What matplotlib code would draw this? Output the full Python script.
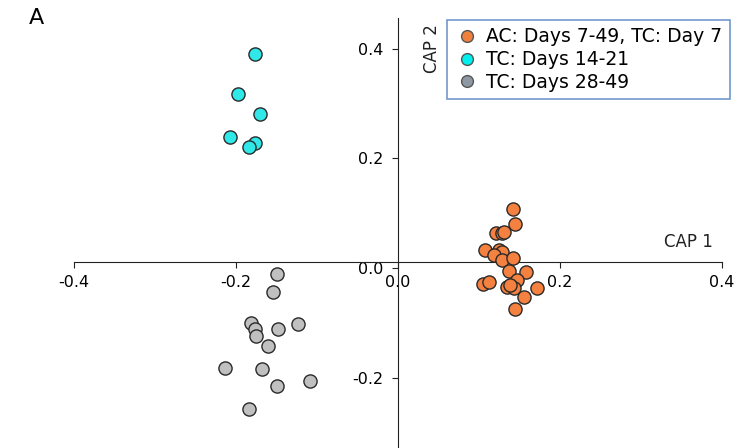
import matplotlib
matplotlib.use("Agg")
import matplotlib.pyplot as plt

plt.rcParams['font.family'] = ['DejaVu Sans']

# group 1: AC days 7-49 and TC day 7
ac_x = [0.142, 0.145, 0.121, 0.128, 0.131, 0.108, 0.125, 0.128, 0.119, 0.128, 0.142,
        0.137, 0.158, 0.147, 0.105, 0.112, 0.134, 0.143, 0.138, 0.171, 0.155, 0.144]
ac_y = [0.108, 0.080, 0.063, 0.064, 0.065, 0.032, 0.032, 0.030, 0.024, 0.015, 0.018,
        -0.006, -0.007, -0.022, -0.030, -0.026, -0.035, -0.037, -0.031, -0.037, -0.052, -0.075]

# group 2: TC days 14-21
tc1_x = [-0.177, -0.198, -0.170, -0.208, -0.176, -0.184]
tc1_y = [0.391, 0.317, 0.281, 0.239, 0.227, 0.220]

# group 3: TC days 28-49
tc2_x = [-0.149, -0.154, -0.181, -0.176, -0.175, -0.148, -0.123, -0.161, -0.213,
         -0.168, -0.109, -0.150, -0.184]
tc2_y = [-0.011, -0.044, -0.101, -0.112, -0.124, -0.112, -0.102, -0.143, -0.182,
         -0.185, -0.206, -0.215, -0.258]

labels = ["AC: Days 7-49, TC: Day 7", "TC: Days 14-21", "TC: Days 28-49"]
xticks = [-0.4, -0.2, 0.0, 0.2, 0.4]
yticks = [-0.2, 0.0, 0.2, 0.4]

fig = plt.figure(figsize=(7.44, 4.48), dpi=100)
ax = fig.add_axes([74 / 744, 0, 648 / 744, 1])

ax.scatter(ac_x, ac_y, s=90, c='#f4813f', edgecolors='#2a2a2a', linewidths=1, zorder=3)
ax.scatter(tc1_x, tc1_y, s=90, c='#30e8e8', edgecolors='#2a2a2a', linewidths=1, zorder=3)
ax.scatter(tc2_x, tc2_y, s=90, c='#c0c0c0', edgecolors='#2a2a2a', linewidths=1, zorder=3)

ax.set_xlim(-0.4, 0.4)
ax.set_ylim(-0.3282, 0.4886)

for s in ['top', 'right']:
    ax.spines[s].set_visible(False)
ax.spines['left'].set_position(('data', 0))
ax.spines['bottom'].set_position(('data', 0.011))
ax.spines['left'].set_bounds(-0.33, 0.455)
ax.spines['bottom'].set_bounds(-0.4, 0.4)
ax.spines['left'].set_color('#222222')
ax.spines['bottom'].set_color('#222222')

ax.set_xticks(xticks)
ax.set_xticklabels(['%.1f' % v for v in xticks])
ax.set_yticks(yticks)
ax.set_yticklabels(['%.1f' % v for v in yticks])
ax.tick_params(axis='x', direction='out', length=4.5, pad=5, labelsize=11.5, color='#222222')
ax.tick_params(axis='y', direction='out', length=4.5, pad=6, labelsize=11.5, color='#222222')

ax.text(0.042, 0.4, "CAP 2", rotation=90, fontsize=12, ha='center', va='center', color='#222222')
ax.text(0.358, 0.047, "CAP 1", fontsize=12, ha='center', va='center', color='#222222')
fig.text(36 / 744, 1 - 18 / 448, "A", fontsize=16, ha='center', va='center')

hs = [plt.Line2D([], [], marker='o', linestyle='', markersize=8.5, markerfacecolor=c,
                 markeredgecolor='#555555', markeredgewidth=1)
      for c in ['#f0813d', '#00f0f0', '#8e98a3']]
leg = fig.legend(hs, labels, loc='upper left', bbox_to_anchor=(447 / 744, 1 - 20 / 448),
                 fontsize=13.5, frameon=True, fancybox=False, borderpad=0.4,
                 handletextpad=0.4, labelspacing=0.2, handlelength=1.3, borderaxespad=0)
leg.get_frame().set_edgecolor('#4f7fbf')
leg.get_frame().set_linewidth(1.2)

fig.savefig("out.png", dpi=100)
